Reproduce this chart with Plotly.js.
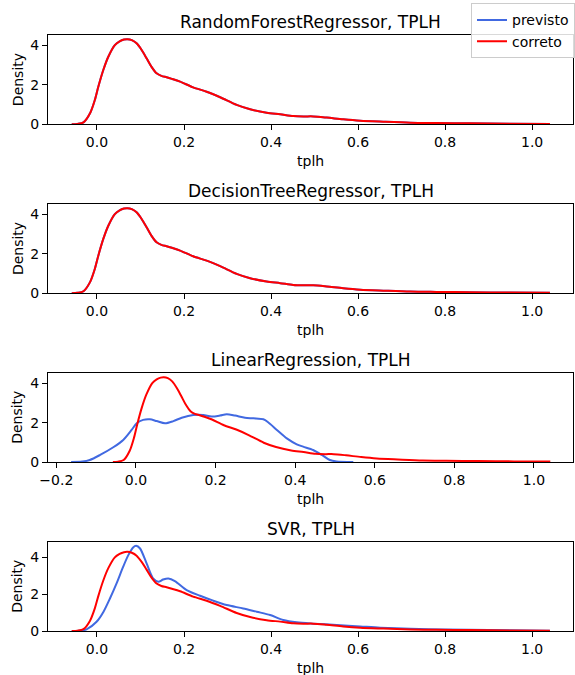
<!DOCTYPE html>
<html>
<head>
<meta charset="utf-8">
<script src="https://cdn.plot.ly/plotly-3.0.1.min.js"></script>
<style>html,body{margin:0;padding:0;background:#fff;}#chart{width:575px;height:675px;}</style>
</head>
<body>
<div id="chart"></div>
<script>
// Panel titles
const panelTitles = ["RandomForestRegressor, TPLH", "DecisionTreeRegressor, TPLH", "LinearRegression, TPLH", "SVR, TPLH"];
const seriesNames = ["previsto", "correto"];

// "correto" (true values) density curve, shared by all panels
const trueX = [-0.058, -0.045, -0.031, -0.016, -0.005, 0.003, 0.0145, 0.026, 0.041, 0.052, 0.062, 0.07, 0.08, 0.091, 0.103, 0.114, 0.125, 0.137, 0.148, 0.160, 0.172, 0.191, 0.221, 0.252, 0.283, 0.321, 0.352, 0.39, 0.421, 0.451, 0.475, 0.497, 0.528, 0.566, 0.605, 0.658, 0.72, 0.78, 0.857, 0.95, 1.041];
const trueY = [0, 0.02, 0.1, 0.56, 1.23, 1.90, 2.75, 3.42, 4.01, 4.20, 4.29, 4.31, 4.26, 4.10, 3.75, 3.34, 2.92, 2.58, 2.45, 2.38, 2.30, 2.16, 1.87, 1.65, 1.37, 0.98, 0.76, 0.59, 0.51, 0.42, 0.40, 0.40, 0.34, 0.25, 0.18, 0.13, 0.08, 0.065, 0.05, 0.03, 0.02];

// "previsto" curves
const rfX = [-0.058, -0.045, -0.031, -0.016, -0.005, 0.003, 0.0145, 0.026, 0.041, 0.052, 0.062, 0.07, 0.08, 0.091, 0.103, 0.114, 0.125, 0.137, 0.148, 0.160, 0.172, 0.191, 0.221, 0.252, 0.283, 0.321, 0.352, 0.39, 0.421, 0.451, 0.475, 0.497, 0.528, 0.566, 0.605, 0.658, 0.72, 0.78, 0.857, 0.95, 1.041];
const rfY = [0, 0.02, 0.1, 0.56, 1.23, 1.90, 2.75, 3.42, 4.01, 4.20, 4.29, 4.31, 4.26, 4.10, 3.75, 3.34, 2.92, 2.58, 2.45, 2.38, 2.30, 2.16, 1.87, 1.65, 1.37, 0.98, 0.76, 0.59, 0.51, 0.42, 0.40, 0.40, 0.34, 0.25, 0.18, 0.13, 0.08, 0.065, 0.05, 0.03, 0.02];
const dtX = [-0.058, -0.045, -0.031, -0.016, -0.005, 0.003, 0.0145, 0.026, 0.041, 0.052, 0.062, 0.07, 0.08, 0.091, 0.103, 0.114, 0.125, 0.137, 0.148, 0.160, 0.172, 0.191, 0.221, 0.252, 0.283, 0.321, 0.352, 0.39, 0.421, 0.451, 0.475, 0.497, 0.528, 0.566, 0.605, 0.658, 0.72, 0.78, 0.857, 0.95, 1.041];
const dtY = [0, 0.02, 0.1, 0.56, 1.23, 1.90, 2.75, 3.42, 4.01, 4.20, 4.29, 4.31, 4.26, 4.10, 3.75, 3.34, 2.92, 2.58, 2.45, 2.38, 2.30, 2.16, 1.87, 1.65, 1.37, 0.98, 0.76, 0.59, 0.51, 0.42, 0.40, 0.40, 0.34, 0.25, 0.18, 0.13, 0.08, 0.065, 0.05, 0.03, 0.02];
const lrX = [-0.163, -0.135, -0.116, -0.090, -0.057, -0.032, -0.011, 0.002, 0.018, 0.035, 0.052, 0.073, 0.094, 0.115, 0.144, 0.169, 0.190, 0.211, 0.228, 0.249, 0.274, 0.295, 0.320, 0.332, 0.354, 0.379, 0.404, 0.420, 0.445, 0.467, 0.487, 0.504, 0.546];
const lrY = [0, 0.02, 0.1, 0.36, 0.75, 1.12, 1.63, 1.97, 2.14, 2.17, 2.08, 1.97, 2.08, 2.25, 2.39, 2.39, 2.31, 2.36, 2.43, 2.36, 2.25, 2.22, 2.17, 2.02, 1.63, 1.20, 0.90, 0.78, 0.61, 0.36, 0.10, 0.03, 0];
const svrX = [-0.058, -0.040, -0.024, -0.001, 0.015, 0.030, 0.045, 0.060, 0.072, 0.083, 0.090, 0.099, 0.114, 0.129, 0.141, 0.152, 0.164, 0.179, 0.206, 0.237, 0.267, 0.298, 0.336, 0.367, 0.398, 0.428, 0.459, 0.497, 0.551, 0.605, 0.651, 0.72, 0.80, 0.90, 1.041];
const svrY = [0, 0.02, 0.09, 0.5, 1.05, 1.78, 2.59, 3.49, 4.13, 4.55, 4.64, 4.49, 3.68, 2.86, 2.68, 2.80, 2.86, 2.72, 2.23, 1.92, 1.65, 1.41, 1.23, 1.05, 0.87, 0.60, 0.47, 0.40, 0.33, 0.25, 0.18, 0.12, 0.08, 0.05, 0.02];

const xTickVals = [-0.2, 0, 0.2, 0.4, 0.6, 0.8, 1.0];
const yTickVals = [0, 2, 4];
const xLabel = "tplh";
const yLabel = "Density";

const predX = [rfX, dtX, lrX, svrX];
const predY = [rfY, dtY, lrY, svrY];

const W = 575, H = 675;
const FONT = "DejaVu Sans, sans-serif";
const BLUE = "#4169E1", RED = "#FF0000";

// pixel geometry of the axes boxes
const xLeft = 48, xRight = 573;
const boxes = [[35, 124.3], [204, 293.2], [372.7, 462], [541.7, 631]];
const xRanges = [[-0.1126, 1.094], [-0.1126, 1.094], [-0.221, 1.098], [-0.1126, 1.094]];
const yRanges = [[0, 4.52], [0, 4.52], [0, 4.54], [0, 4.86]];

const traces = [];
const layout = {
  width: W, height: H,
  margin: {l: 0, r: 0, t: 0, b: 0},
  paper_bgcolor: "#fff", plot_bgcolor: "#fff",
  font: {family: FONT, size: 14, color: "#000"},
  showlegend: true,
  legend: {x: 1, xanchor: "right", y: 0.995, yanchor: "top", bgcolor: "rgba(255,255,255,0.85)",
           bordercolor: "#cccccc", borderwidth: 1, font: {family: FONT, size: 14, color: "#000"},
           tracegroupgap: 0},
  annotations: []
};

const xd = [xLeft / W, xRight / W];
for (let i = 0; i < 4; i++) {
  const sfx = i === 0 ? "" : String(i + 1);
  const yd = [1 - boxes[i][1] / H, 1 - boxes[i][0] / H];
  traces.push({x: predX[i], y: predY[i], type: "scatter", mode: "lines", name: seriesNames[0],
    line: {color: BLUE, width: 2, shape: "spline", smoothing: 0.8},
    xaxis: "x" + sfx, yaxis: "y" + sfx, showlegend: i === 0, legendgroup: "p", hoverinfo: "skip"});
  traces.push({x: trueX, y: trueY, type: "scatter", mode: "lines", name: seriesNames[1],
    line: {color: RED, width: 2, shape: "spline", smoothing: 0.8},
    xaxis: "x" + sfx, yaxis: "y" + sfx, showlegend: i === 0, legendgroup: "c", hoverinfo: "skip"});
  const common = {showline: true, mirror: true, linecolor: "#000", linewidth: 1,
    ticks: "outside", ticklen: 5, tickwidth: 1, tickcolor: "#000", showgrid: false, zeroline: false,
    tickfont: {family: FONT, size: 14, color: "#000"}, fixedrange: true};
  layout["xaxis" + sfx] = Object.assign({}, common, {domain: xd, range: xRanges[i], anchor: "y" + sfx,
    tickmode: "array", tickvals: xTickVals, ticktext: xTickVals.map(v => (v < 0 ? "\u2212" : "") + Math.abs(v).toFixed(1))});
  layout["yaxis" + sfx] = Object.assign({}, common, {domain: yd, range: yRanges[i], anchor: "x" + sfx,
    tickmode: "array", tickvals: yTickVals, ticktext: yTickVals.map(String)});
  const xc = (xd[0] + xd[1]) / 2;
  layout.annotations.push({text: panelTitles[i], xref: "paper", yref: "paper", x: xc, y: yd[1],
    xanchor: "center", yanchor: "middle", yshift: 13, showarrow: false, font: {family: FONT, size: 17, color: "#000"}});
  layout.annotations.push({text: xLabel, xref: "paper", yref: "paper", x: xc, y: yd[0],
    xanchor: "center", yanchor: "middle", yshift: -37, showarrow: false, font: {family: FONT, size: 14, color: "#000"}});
  layout.annotations.push({text: yLabel, xref: "paper", yref: "paper", x: 17.5 / W, y: (yd[0] + yd[1]) / 2,
    xanchor: "center", yanchor: "middle", textangle: -90, showarrow: false, font: {family: FONT, size: 14, color: "#000"}});
}

Plotly.newPlot("chart", traces, layout, {displayModeBar: false, staticPlot: true});
</script>
</body>
</html>
